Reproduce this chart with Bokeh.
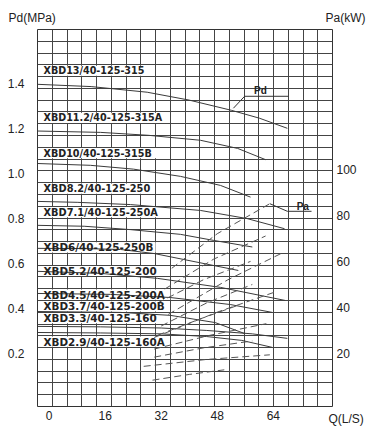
import numpy as np
from bokeh.plotting import figure
from bokeh.models import Range1d, LinearAxis, FixedTicker, Label, PrintfTickFormatter
from bokeh.core.properties import value
from bokeh.embed import file_html
from bokeh.resources import INLINE

# ---------------- data ----------------
models = ["XBD13/40-125-315", "XBD11.2/40-125-315A", "XBD10/40-125-315B",
          "XBD8.2/40-125-250", "XBD7.1/40-125-250A", "XBD6/40-125-250B",
          "XBD5.2/40-125-200", "XBD4.5/40-125-200A", "XBD3.7/40-125-200B",
          "XBD3.3/40-125-160", "XBD2.9/40-125-160A"]

# Pd (MPa) curves: flow Q (L/s) and pressure
pd_q = [
    [-3.3, 12, 28, 40, 52, 60, 68],
    [-3.3, 14.7, 28.4, 43.2, 53.8, 61.8],
    [-3.3, 11.8, 24.1, 37.5, 48.9, 57.5],
    [-3.3, 8, 23.2, 43.2, 56.5, 67.2],
    [-3.3, 10, 23.2, 37.5, 47.0, 58.0],
    [-3.3, 10, 20.4, 30, 38.3, 54.0],
    [-3.3, 14.7, 30.9, 48.9, 67.4],
    [-3.3, 17.5, 34.6, 51.7, 63.7],
    [-3.3, 20.4, 34.6, 47.4, 55.7],
    [-3.3, 14.7, 32, 45, 58, 68],
    [-3.3, 14.7, 32, 45, 55, 63.7],
]
pd_mpa = [
    [1.395, 1.385, 1.36, 1.325, 1.28, 1.245, 1.20],
    [1.188, 1.182, 1.169, 1.147, 1.111, 1.061],
    [1.044, 1.036, 1.019, 0.987, 0.947, 0.895],
    [0.876, 0.872, 0.862, 0.836, 0.800, 0.755],
    [0.770, 0.766, 0.751, 0.730, 0.703, 0.674],
    [0.668, 0.667, 0.663, 0.645, 0.619, 0.570],
    [0.566, 0.557, 0.535, 0.495, 0.437],
    [0.468, 0.464, 0.450, 0.419, 0.384],
    [0.388, 0.384, 0.371, 0.339, 0.291],
    [0.322, 0.320, 0.315, 0.304, 0.289, 0.269],
    [0.295, 0.293, 0.289, 0.277, 0.260, 0.229],
]

# Pa (kW) shaft power curves (dashed)
pa_q = [
    [35, 48, 63], [33, 47, 61.8], [31, 44, 57.5], [34, 51, 67], [32, 45, 58],
    [31, 43, 54], [30, 48, 65], [30, 46, 62], [30, 44, 58], [27, 45, 63], [29.5, 40, 50],
]
pa_kw = [
    [57, 72, 85], [48, 61, 71], [42, 52, 60], [37, 52, 64], [32, 42, 50],
    [28, 35, 41], [27, 38, 47], [22, 28, 33], [18.5, 22.5, 25.5], [14.5, 17.5, 19.5], [8.5, 11, 13],
]

q_ticks = [0, 16, 32, 48, 64]
pd_ticks = [0.2, 0.4, 0.6, 0.8, 1.0, 1.2, 1.4]
pa_ticks = [20, 40, 60, 80, 100]

# ---------------- layout / style ----------------
X0, X1 = -3.32, 80.89
Y0, Y1 = -0.033, 1.638
PA0, PA1 = -2.9, 160.5
N_COLS, N_ROWS = 20, 32
FRAME_L, FRAME_T, FRAME_W, FRAME_H = 37, 29, 295, 377
W, H = 377, 437

label_rows = [3, 7, 10, 13, 15, 18, 20, 22, 23, 24, 26]
label_box_right = [29.5, 33.5, 30.6, 29.8, 31.8, 30.4, 31.8, 34.6, 33.5, 30.9, 33.2]
label_font_px = [9.6, 9.6, 9.6, 9.8, 9.8, 10.4, 10.4, 10.4, 10.4, 10.4, 10.4]
label_text_x = -1.61

px_x = FRAME_W / (X1 - X0)
px_y = FRAME_H / (Y1 - Y0)
row_h = (Y1 - Y0) / N_ROWS

FONT = "Liberation Sans"
LABEL_FONT = "DejaVu Sans"
GRID = "#444444"
INK = "#222222"

p = figure(width=W, height=H, x_range=Range1d(X0, X1), y_range=Range1d(Y0, Y1),
           output_backend="svg", toolbar_location=None,
           min_border_left=FRAME_L, min_border_top=FRAME_T,
           min_border_right=W - FRAME_L - FRAME_W,
           min_border_bottom=H - FRAME_T - FRAME_H)
p.extra_y_ranges = {"pa": Range1d(PA0, PA1)}
p.background_fill_color = "white"
p.border_fill_color = "white"
p.outline_line_color = "#333333"
p.outline_line_width = 1
p.outline_line_alpha = 1

p.xgrid.ticker = FixedTicker(ticks=list(np.linspace(X0, X1, N_COLS + 1)[1:-1]))
p.ygrid.ticker = FixedTicker(ticks=list(np.linspace(Y0, Y1, N_ROWS + 1)[1:-1]))
p.grid.grid_line_color = GRID
p.grid.grid_line_width = 1
p.grid.grid_line_alpha = 1

def style_axis(ax, standoff):
    ax.axis_line_color = None
    ax.major_tick_line_color = None
    ax.minor_tick_line_color = None
    ax.major_tick_out = 0
    ax.major_tick_in = 0
    ax.minor_tick_out = 0
    ax.minor_tick_in = 0
    ax.major_label_standoff = standoff
    ax.major_label_text_font = FONT
    ax.major_label_text_font_size = "12px"
    ax.major_label_text_color = INK

p.xaxis.ticker = FixedTicker(ticks=q_ticks)
style_axis(p.xaxis[0], 4)
p.yaxis.ticker = FixedTicker(ticks=pd_ticks)
p.yaxis.formatter = PrintfTickFormatter(format="%.1f")
style_axis(p.yaxis[0], 13)

ra = LinearAxis(y_range_name="pa", ticker=FixedTicker(ticks=pa_ticks))
style_axis(ra, 4)
p.add_layout(ra, "right")

# label background boxes (one grid row tall)
pad = 0.8 / px_y
tops = [Y1 - k * row_h - pad for k in label_rows]
bots = [Y1 - (k + 1) * row_h + pad for k in label_rows]
lefts = [X0 + 1.2 / px_x] * len(models)
p.quad(left=lefts, right=label_box_right, top=tops, bottom=bots,
       fill_color="white", line_color=None)

# Pd curves
for qs, ys in zip(pd_q, pd_mpa):
    p.line(qs, ys, line_color="#3a3a3a", line_width=1)

# Pa curves
for qs, ys in zip(pa_q, pa_kw):
    p.line(qs, ys, y_range_name="pa", line_color="#555555", line_width=1,
           line_dash="7 4")

# model labels
for name, k, fs in zip(models, label_rows, label_font_px):
    p.text(x=[label_text_x], y=[Y1 - (k + 0.5) * row_h], text=[name],
           text_font=value(LABEL_FONT), text_font_style="bold",
           text_font_size=value(f"{fs}px"), text_color=INK,
           text_align="left", text_baseline="middle")

# leaders for "Pd" and "Pa"
pd_leader_q = [52.6, 55.8, 68.3]
pd_leader_y = [1.289, 1.342, 1.342]
p.line(pd_leader_q, pd_leader_y, line_color="#333333", line_width=1)
pa_leader_q = [63.0, 68.0, 74.9]
pa_leader_y = [85.0, 81.7, 81.7]
p.line(pa_leader_q, pa_leader_y, y_range_name="pa", line_color="#333333", line_width=1)

p.add_layout(Label(x=60.3, y=1.369, text="Pd", text_font=FONT, text_font_style="bold",
                   text_font_size="10px", text_color=INK, text_align="center",
                   text_baseline="middle"))
p.add_layout(Label(x=72.4, y=84.0, y_range_name="pa", text="Pa", text_font=FONT,
                   text_font_style="bold", text_font_size="10px", text_color=INK,
                   text_align="center", text_baseline="middle"))

# axis titles (outside the frame) -- canvas coordinates, kept in side panels
def canvas_label(text, x, y):
    return Label(x=x, y=y, x_units="canvas", y_units="canvas", text=text,
                 text_font=FONT, text_font_size="12px", text_color=INK,
                 text_align="left", text_baseline="middle")

p.add_layout(canvas_label("Pd(MPa)", 8, 17), "above")
p.add_layout(canvas_label("Pa(kW)", 325, 17), "above")
p.add_layout(canvas_label("Q(L/S)", 328, 418), "below")

open("out.html", "w").write(file_html(p, INLINE))
